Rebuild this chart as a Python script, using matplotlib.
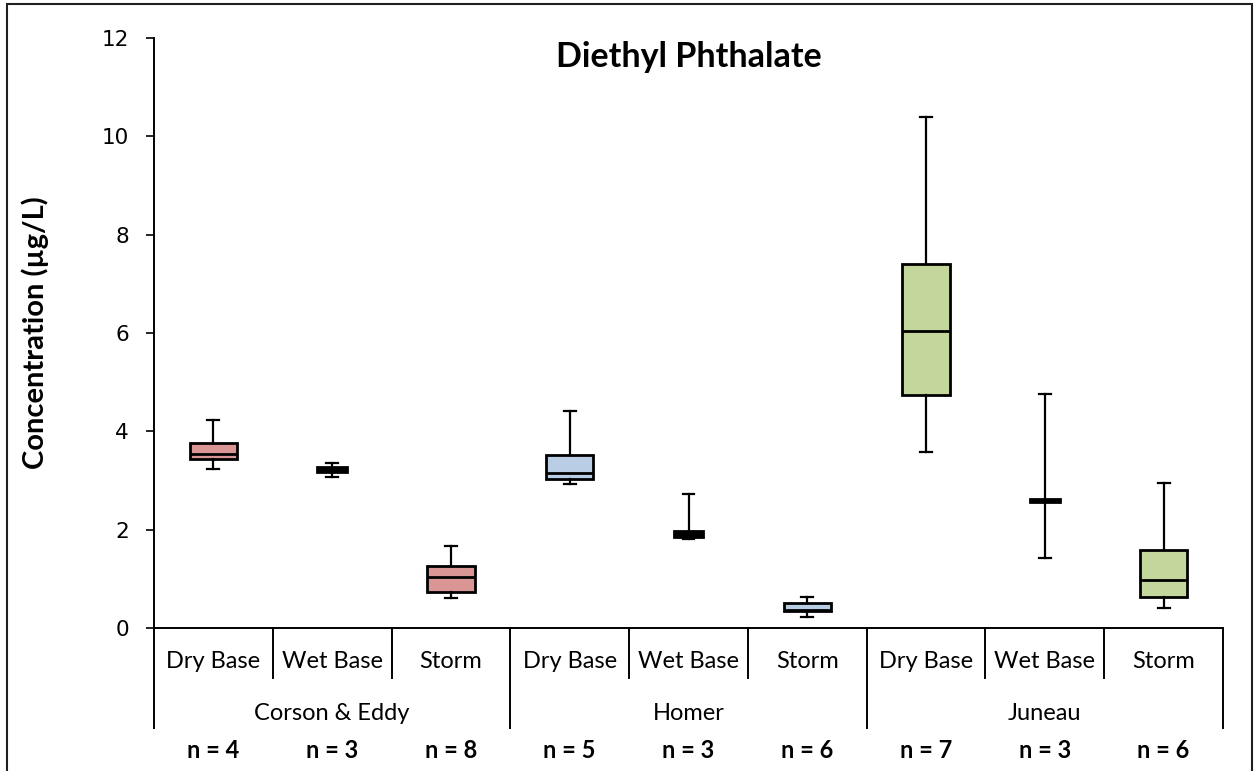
import matplotlib
matplotlib.use("Agg")
import matplotlib.pyplot as plt
from matplotlib.patches import Rectangle

# ---------------- data ----------------
title = "Diethyl Phthalate"
ylabel = "Concentration (\u00b5g/L)"
sites = ["Corson & Eddy", "Homer", "Juneau"]
conditions = ["Dry Base", "Wet Base", "Storm"]
n_counts = [4, 3, 8, 5, 3, 6, 7, 3, 6]

whisker_low = [3.23, 3.07, 0.61, 2.92, 1.82, 0.23, 3.57, 1.43, 0.41]
q1_values   = [3.43, 3.17, 0.74, 3.03, 1.86, 0.34, 4.74, 2.57, 0.63]
medians     = [3.54, 3.22, 1.04, 3.15, 1.90, 0.37, 6.04, 2.60, 0.97]
q3_values   = [3.76, 3.27, 1.27, 3.52, 1.97, 0.51, 7.40, 2.63, 1.59]
whisker_high = [4.23, 3.36, 1.67, 4.41, 2.72, 0.63, 10.40, 4.76, 2.95]

site_colors = ["#D99694", "#B9CDE5", "#C3D69B"]
yticks = [0, 2, 4, 6, 8, 10, 12]

# ---------------- figure ----------------
W, H = 1257, 771
fig = plt.figure(figsize=(W / 100, H / 100), dpi=100)

ax_left, ax_right = 154, 1223
ax_top, ax_bottom = 38, 728
zero_px = 628
px_per_unit = (zero_px - ax_top) / 12.0
ymin = -(ax_bottom - zero_px) / px_per_unit

ax = fig.add_axes([ax_left / W, 1 - ax_bottom / H,
                   (ax_right - ax_left) / W, (ax_bottom - ax_top) / H])

label_font = ["Lato", "DejaVu Sans"]

ncat = len(site_colors) * len(conditions)
positions = list(range(ncat))
stats = []
for i in range(ncat):
    stats.append(dict(whislo=whisker_low[i], q1=q1_values[i], med=medians[i],
                      q3=q3_values[i], whishi=whisker_high[i], fliers=[]))

for i in range(ncat):
    site_idx = i // len(conditions)
    cond_idx = i % len(conditions)
    is_wet = conditions[cond_idx] == "Wet Base"
    face = "black" if is_wet else site_colors[site_idx]
    width = 0.25 if is_wet else 0.40
    ax.bxp([stats[i]], positions=[positions[i]], widths=width,
           patch_artist=True, showfliers=False, capwidths=0.10,
           boxprops=dict(facecolor=face, edgecolor="black", linewidth=2.0),
           medianprops=dict(color="black", linewidth=2.0),
           whiskerprops=dict(color="black", linewidth=1.6),
           capprops=dict(color="black", linewidth=1.6),
           zorder=3)

ax.set_xlim(-0.5, ncat - 0.5)
ax.set_ylim(ymin, 12)
ax.set_yticks(yticks)
ax.set_yticklabels([str(t) for t in yticks], fontsize=15.5, family="DejaVu Sans")
ax.tick_params(axis="y", direction="out", length=6, width=1.2, pad=12)
ax.set_xticks([])
for s in ["top", "right", "bottom"]:
    ax.spines[s].set_visible(False)
ax.spines["left"].set_linewidth(1.4)

# x-axis line at zero
ax.axhline(0, color="black", linewidth=1.4, zorder=2)

# separators
sub_bottom = -(678 - zero_px) / px_per_unit
for i in range(1, ncat):
    x = i - 0.5
    if i % len(conditions) == 0:
        ax.plot([x, x], [0, ymin], color="black", linewidth=1.4, clip_on=False)
    else:
        ax.plot([x, x], [0, sub_bottom], color="black", linewidth=1.4, clip_on=False)
ax.plot([ncat - 0.5, ncat - 0.5], [0, ymin], color="black", linewidth=1.4, clip_on=False)

cat_y = -(662 - zero_px) / px_per_unit
grp_y = -(713 - zero_px) / px_per_unit
n_y = -(750 - zero_px) / px_per_unit
for i in range(ncat):
    ax.text(positions[i], cat_y, conditions[i % len(conditions)], ha="center", va="center",
            fontsize=17, family=label_font)
    ax.text(positions[i], n_y, f"n = {n_counts[i]}", ha="center", va="center",
            fontsize=17, fontweight="bold", family=label_font, clip_on=False)
for g, site in enumerate(sites):
    ax.text(g * len(conditions) + 1, grp_y, site, ha="center", va="center",
            fontsize=17, family=label_font)

ax.text(0.5, 1 - (57 - ax_top) / (ax_bottom - ax_top), title, transform=ax.transAxes,
        ha="center", va="center", fontsize=24.5, fontweight="bold", family=label_font)

fig.text(35 / W, 1 - 333 / H, ylabel, rotation=90, ha="center", va="center",
         fontsize=21, fontweight="bold", family=label_font)

# figure frame
fig.patches.append(Rectangle((7 / W, -0.05), (1252 - 7) / W, 1.05 - 4 / H,
                             transform=fig.transFigure, fill=False,
                             edgecolor="#202020", linewidth=1.5))

fig.savefig("out.png", dpi=100)
